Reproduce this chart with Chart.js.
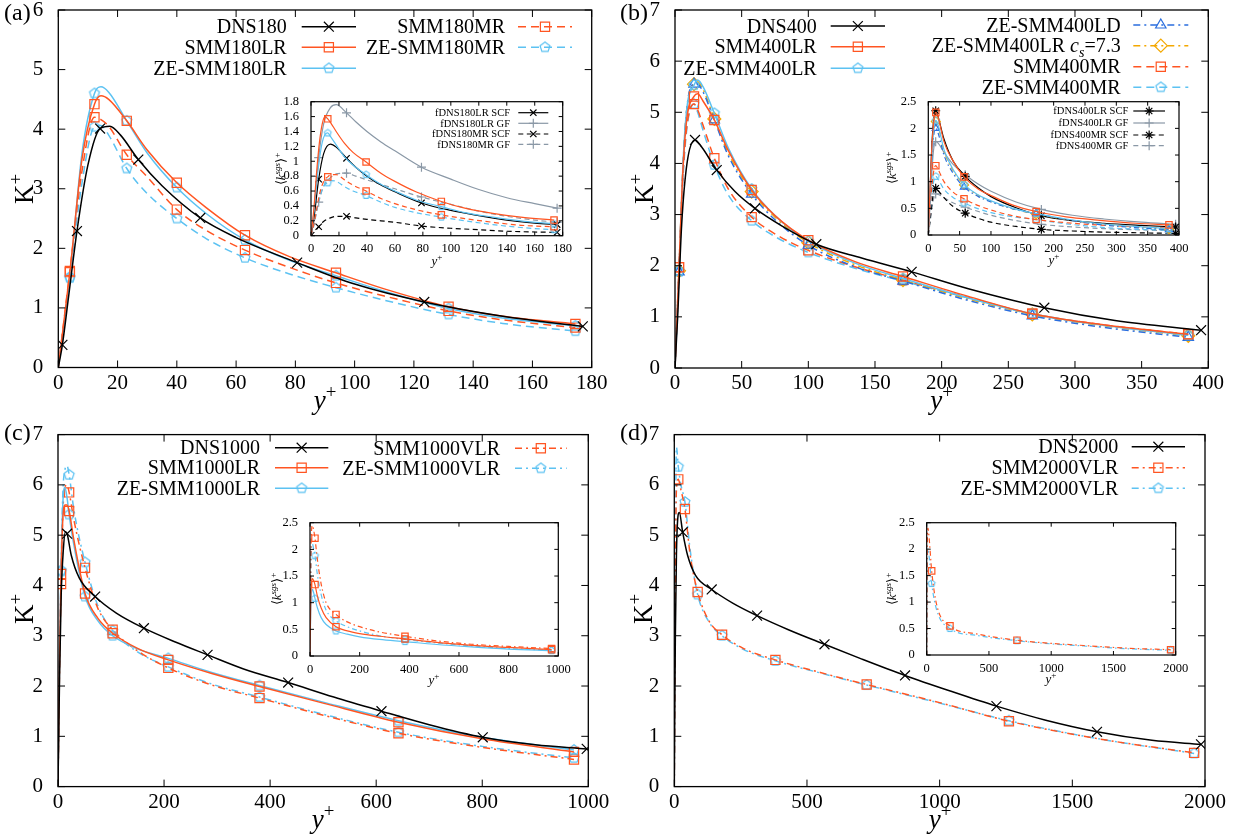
<!DOCTYPE html>
<html>
<head>
<meta charset="utf-8">
<script src="https://cdn.jsdelivr.net/npm/chart.js@4.4.1/dist/chart.umd.min.js"></script>
<style>
  body { margin: 0; background: #fff; }
  #fig { position: relative; width: 1250px; height: 837px; overflow: hidden; background: #fff; }
</style>
</head>
<body>
<div id="fig"></div>
<script>
// ---------- (a) Re_tau = 180 ----------
const a_x_dns = [0, 1.38, 3.5, 6.3, 10, 14.1, 17.4, 21, 27, 35, 47.9, 60, 80.6, 100, 123.5, 150, 177];
const a_k_dns = [0, 0.38, 1.2, 2.29, 3.4, 4.01, 4.05, 3.9, 3.49, 3.05, 2.51, 2.18, 1.76, 1.40, 1.10, 0.86, 0.69];
const a_mk_dns = [1.38, 6.3, 14.1, 27, 47.9, 80.6, 123.5, 177];
const a_x = [0, 3.9, 8, 12.2, 14.4, 17, 23.1, 30, 40, 50, 63, 78, 93.7, 110, 131.7, 150, 174.5];
const a_k_lr = [0, 1.60, 3.5, 4.42, 4.56, 4.50, 4.14, 3.65, 3.10, 2.68, 2.22, 1.86, 1.59, 1.32, 1.02, 0.86, 0.73];
const a_k_zelr = [0, 1.52, 3.6, 4.60, 4.71, 4.62, 4.14, 3.60, 3.02, 2.58, 2.14, 1.80, 1.54, 1.28, 0.99, 0.83, 0.70];
const a_k_mr = [0, 1.62, 3.3, 4.20, 4.16, 4.05, 3.57, 3.20, 2.65, 2.30, 1.97, 1.68, 1.42, 1.20, 0.95, 0.80, 0.67];
const a_k_zemr = [0, 1.50, 3.1, 4.04, 4.06, 3.90, 3.34, 2.92, 2.50, 2.16, 1.84, 1.57, 1.34, 1.13, 0.89, 0.74, 0.61];
const a_mk = [3.9, 12.2, 23.1, 40, 63, 93.7, 131.7, 174.5];

const ai_x_dns = [0, 2, 5.5, 9, 13.9, 18, 25.4, 32, 40, 50, 60, 79, 100, 120, 140, 160, 176];
const ai_k_scf = [0, 0.22, 0.76, 1.1, 1.23, 1.19, 1.04, 0.92, 0.80, 0.68, 0.59, 0.44, 0.34, 0.27, 0.21, 0.17, 0.15];
const ai_k_gf = [0, 0.3, 1.05, 1.5, 1.72, 1.76, 1.65, 1.53, 1.40, 1.26, 1.14, 0.92, 0.76, 0.62, 0.51, 0.43, 0.37];
const ai_k_scfm = [0, 0.04, 0.12, 0.19, 0.24, 0.26, 0.26, 0.24, 0.22, 0.20, 0.18, 0.13, 0.10, 0.08, 0.06, 0.05, 0.045];
const ai_k_gfm = [0, 0.15, 0.45, 0.66, 0.78, 0.83, 0.84, 0.80, 0.75, 0.69, 0.63, 0.52, 0.42, 0.33, 0.26, 0.21, 0.18];
const ai_mk_dns = [5.5, 25.4, 79, 176];
const ai_x = [0, 2, 4, 6, 8, 10, 12, 14, 18, 24, 30, 39.4, 50, 60, 75, 93.2, 110, 130, 150, 173.8];
const ai_k_lr = [0, 0.35, 0.85, 1.25, 1.5, 1.6, 1.57, 1.52, 1.40, 1.24, 1.12, 0.99, 0.84, 0.73, 0.59, 0.46, 0.37, 0.30, 0.25, 0.21];
const ai_k_zelr = [0, 0.30, 0.70, 1.02, 1.25, 1.36, 1.38, 1.33, 1.22, 1.06, 0.95, 0.82, 0.69, 0.60, 0.48, 0.39, 0.31, 0.25, 0.20, 0.16];
const ai_k_mr = [0, 0.15, 0.35, 0.55, 0.68, 0.76, 0.79, 0.82, 0.82, 0.75, 0.68, 0.60, 0.50, 0.43, 0.35, 0.28, 0.23, 0.18, 0.14, 0.12];
const ai_k_zemr = [0, 0.13, 0.32, 0.50, 0.62, 0.69, 0.71, 0.74, 0.73, 0.66, 0.60, 0.54, 0.45, 0.38, 0.31, 0.25, 0.20, 0.15, 0.11, 0.08];
const ai_mk = [12, 39.4, 93.2, 173.8];

// ---------- (b) Re_tau = 400 ----------
const b_x_dns = [0, 2, 5, 9, 15, 20, 31.3, 45, 60, 80, 106, 140, 177.5, 220, 277, 330, 394.6];
const b_k_dns = [0, 1.0, 2.8, 4.0, 4.46, 4.32, 3.87, 3.45, 3.12, 2.78, 2.42, 2.15, 1.88, 1.55, 1.18, 0.93, 0.74];
const b_mk_dns = [15, 31.3, 60, 106, 177.5, 277, 394.6];
const b_x = [0, 3, 6, 9, 14.25, 17, 21, 29.5, 40, 57.5, 75, 100, 135, 171, 220, 268, 320, 385];
const b_k_lr = [0, 1.97, 3.9, 4.9, 5.31, 5.36, 5.22, 4.85, 4.25, 3.48, 2.98, 2.50, 2.08, 1.79, 1.40, 1.06, 0.85, 0.66];
const b_k_zelr = [0, 1.90, 4.0, 5.1, 5.53, 5.63, 5.5, 4.98, 4.30, 3.50, 2.98, 2.48, 2.05, 1.75, 1.37, 1.06, 0.84, 0.64];
const b_k_zeld = [0, 1.88, 3.9, 5.1, 5.55, 5.55, 5.4, 4.85, 4.15, 3.40, 2.90, 2.40, 1.98, 1.70, 1.32, 1.02, 0.80, 0.60];
const b_k_zecs = [0, 1.90, 3.95, 5.1, 5.55, 5.58, 5.45, 4.87, 4.2, 3.45, 2.95, 2.45, 2.02, 1.72, 1.35, 1.05, 0.83, 0.63];
const b_k_mr = [0, 1.97, 3.8, 4.75, 5.16, 5.05, 4.75, 4.10, 3.50, 2.95, 2.62, 2.30, 1.98, 1.72, 1.38, 1.06, 0.85, 0.66];
const b_k_zemr = [0, 1.88, 3.7, 4.70, 5.16, 5.0, 4.65, 3.97, 3.38, 2.88, 2.57, 2.26, 1.95, 1.70, 1.37, 1.05, 0.84, 0.64];
const b_mk = [3, 14.25, 29.5, 57.5, 100, 171, 268, 385];

const bi_x_dns = [0, 3, 6, 9, 11.8, 16, 25, 40, 58.9, 80, 100, 140, 180.4, 230, 280, 340, 394.6];
const bi_k_scf = [0, 0.9, 1.75, 2.2, 2.33, 2.2, 1.8, 1.38, 1.10, 0.88, 0.72, 0.51, 0.36, 0.27, 0.22, 0.18, 0.15];
const bi_k_gf = [0, 0.6, 1.25, 1.65, 1.75, 1.72, 1.55, 1.32, 1.13, 0.95, 0.82, 0.62, 0.48, 0.37, 0.30, 0.24, 0.20];
const bi_k_scfm = [0, 0.3, 0.62, 0.82, 0.875, 0.83, 0.7, 0.53, 0.41, 0.31, 0.24, 0.16, 0.106, 0.075, 0.055, 0.04, 0.03];
const bi_k_gfm = [0, 0.25, 0.52, 0.7, 0.77, 0.76, 0.7, 0.6, 0.52, 0.44, 0.37, 0.27, 0.20, 0.15, 0.12, 0.095, 0.08];
const bi_mk_dns = [11.8, 58.9, 180.4, 394.6];
const bi_x = [0, 3, 6, 9, 12, 16, 25, 40, 57, 80, 100, 135, 172, 220, 270, 330, 384];
const bi_k_lr = [0, 0.9, 1.7, 2.15, 2.30, 2.2, 1.75, 1.38, 1.09, 0.86, 0.74, 0.56, 0.44, 0.34, 0.28, 0.22, 0.19];
const bi_k_zelr = [0, 0.8, 1.55, 2.0, 2.15, 2.05, 1.6, 1.22, 0.95, 0.75, 0.64, 0.50, 0.40, 0.30, 0.22, 0.16, 0.12];
const bi_k_zeld = [0, 0.75, 1.45, 1.9, 2.0, 1.9, 1.5, 1.15, 0.90, 0.72, 0.62, 0.49, 0.40, 0.29, 0.20, 0.14, 0.10];
const bi_k_zecs = [0, 0.8, 1.52, 1.98, 2.13, 2.02, 1.58, 1.2, 0.94, 0.74, 0.63, 0.49, 0.39, 0.29, 0.21, 0.15, 0.11];
const bi_k_mr = [0, 0.5, 0.95, 1.22, 1.30, 1.22, 1.0, 0.8, 0.68, 0.55, 0.47, 0.36, 0.29, 0.23, 0.19, 0.155, 0.13];
const bi_k_zemr = [0, 0.42, 0.8, 1.03, 1.1, 1.04, 0.86, 0.7, 0.60, 0.49, 0.42, 0.34, 0.29, 0.21, 0.15, 0.11, 0.09];
const bi_mk = [12, 57, 172, 384];

// ---------- (c) Re_tau = 1000 ----------
const c_x_dns = [0, 3, 6, 10, 14, 17.2, 25, 40, 70, 110, 162, 220, 282, 350, 434, 520, 610, 700, 801, 900, 997];
const c_k_dns = [0, 2.2, 3.8, 4.7, 5.07, 5.03, 4.6, 4.15, 3.78, 3.45, 3.15, 2.88, 2.62, 2.34, 2.07, 1.78, 1.50, 1.23, 0.98, 0.83, 0.75];
const c_mk_dns = [17.2, 70, 162, 282, 434, 610, 801, 997];
const c_x = [0, 2.5, 5.8, 9, 13, 17, 21, 30, 51, 75, 103, 150, 208, 290, 380, 500, 642, 800, 973];
const c_k_lr = [0, 2.3, 4.23, 5.3, 5.6, 5.6, 5.48, 4.9, 3.84, 3.35, 3.05, 2.75, 2.52, 2.25, 1.99, 1.66, 1.28, 0.95, 0.69];
const c_k_zelr = [0, 2.4, 4.28, 5.6, 5.95, 5.75, 5.41, 4.8, 3.78, 3.3, 3.0, 2.74, 2.55, 2.27, 2.01, 1.68, 1.31, 0.98, 0.73];
const c_k_vlr = [0, 2.1, 4.03, 5.4, 5.95, 6.0, 5.85, 5.3, 4.35, 3.55, 3.12, 2.7, 2.36, 2.02, 1.76, 1.42, 1.06, 0.78, 0.54];
const c_k_zevlr = [0, 2.3, 4.3, 5.8, 6.3, 6.38, 6.2, 5.5, 4.46, 3.6, 3.10, 2.68, 2.38, 2.04, 1.78, 1.44, 1.08, 0.80, 0.57];
const c_mk = [5.8, 21, 51, 103, 208, 380, 642, 973];

const ci_x = [0, 3, 6, 10, 14, 20, 30, 45, 65, 104.7, 150, 200, 280, 382.5, 500, 650, 800, 973];
const ci_k_lr = [0, 1.0, 1.38, 1.45, 1.42, 1.34, 1.12, 0.9, 0.72, 0.55, 0.47, 0.42, 0.37, 0.32, 0.26, 0.2, 0.16, 0.12];
const ci_k_zelr = [0, 0.85, 1.18, 1.25, 1.2, 1.08, 0.9, 0.72, 0.59, 0.47, 0.41, 0.36, 0.31, 0.27, 0.22, 0.17, 0.13, 0.10];
const ci_k_vlr = [0, 1.6, 2.35, 2.45, 2.38, 2.21, 1.8, 1.35, 1.0, 0.78, 0.64, 0.55, 0.45, 0.37, 0.29, 0.22, 0.18, 0.14];
const ci_k_zevlr = [0, 1.35, 2.0, 2.1, 2.03, 1.88, 1.52, 1.15, 0.86, 0.66, 0.55, 0.47, 0.38, 0.31, 0.25, 0.19, 0.14, 0.11];
const ci_mk = [20, 104.7, 382.5, 973];

// ---------- (d) Re_tau = 2000 ----------
const d_x_dns = [0, 4, 8, 12, 19, 31.5, 50, 80, 141, 220, 312, 430, 566, 700, 869.5, 1040, 1214, 1400, 1593, 1800, 1985];
const d_k_dns = [0, 3.0, 4.6, 5.25, 5.45, 5.06, 4.6, 4.2, 3.92, 3.65, 3.4, 3.12, 2.83, 2.55, 2.21, 1.9, 1.6, 1.32, 1.09, 0.92, 0.84];
const d_mk_dns = [31.5, 141, 312, 566, 869.5, 1214, 1593, 1985];
const d_x = [0, 4, 8, 15, 25, 40, 60, 88, 130, 180, 260, 381, 550, 725, 1000, 1261, 1600, 1959];
const d_k_vlr = [0, 4.0, 5.9, 6.11, 5.9, 5.52, 4.6, 3.87, 3.3, 3.02, 2.75, 2.52, 2.27, 2.03, 1.67, 1.30, 0.95, 0.67];
const d_k_zevlr = [0, 4.5, 6.75, 6.36, 6.0, 5.66, 4.7, 3.82, 3.28, 3.0, 2.73, 2.5, 2.26, 2.02, 1.66, 1.31, 0.95, 0.66];
const d_mk = [15, 40, 88, 180, 381, 725, 1261, 1959];

const di_x = [0, 4, 10, 20, 40, 80, 187, 400, 725, 1000, 1261, 1600, 1959];
const di_k_vlr = [0, 1.9, 2.4, 2.2, 1.59, 0.95, 0.55, 0.4, 0.28, 0.22, 0.18, 0.13, 0.10];
const di_k_zevlr = [0, 1.6, 2.0, 1.85, 1.35, 0.85, 0.50, 0.37, 0.27, 0.21, 0.17, 0.12, 0.09];
const di_mk = [40, 187, 725, 1959];

// ---------- styles ----------
const SERIF = '"Liberation Serif", "Times New Roman", serif';
const BLACK = '#000000', RED = '#ff5522', BLUE = '#5cc2f2', GRAY = '#8a98a6', DBLUE = '#2a6ede', GOLD = '#f4a800';
const DASH = [8, 5], DDOT = [7, 4, 2, 4], IDASH = [5, 3.5], IDDOT = [5, 3, 1.5, 3];
const fig = document.getElementById('fig');

function pentagon(color, r, lw) {
  const c = document.createElement('canvas'), s = Math.ceil(2 * r + lw + 2);
  c.width = c.height = s;
  const g = c.getContext('2d');
  g.strokeStyle = color; g.lineWidth = lw; g.beginPath();
  for (let i = 0; i < 5; i++) {
    const t = -Math.PI / 2 + i * 2 * Math.PI / 5;
    g.lineTo(s / 2 + r * Math.cos(t), s / 2 + r * Math.sin(t));
  }
  g.closePath(); g.stroke();
  return c;
}

function series(label, xs, ks, marks, color, dash, shape, r, lw, extra) {
  const mk = new Set(marks);
  return Object.assign({
    label: label,
    data: xs.map((x, i) => ({ x: x, y: ks[i] })),
    borderColor: color, borderWidth: lw, borderDash: dash,
    pointStyle: shape, markR: r,
    pointRadius: c => (c.raw && mk.has(c.raw.x)) ? r : 0,
    pointBorderColor: color, pointBackgroundColor: 'rgba(0,0,0,0)', pointBorderWidth: 1.2,
    cubicInterpolationMode: 'monotone', fill: false
  }, extra || {});
}

// text with italic / superscript / subscript runs
function rich(ctx, parts, x, y, size, align, rot) {
  ctx.save();
  ctx.translate(x, y);
  if (rot) ctx.rotate(rot);
  const segs = parts.map(p => {
    const f = p.f || '', sm = f.includes('^') || f.includes('_');
    const font = (f.includes('i') ? 'italic ' : '') + (sm ? size * 0.7 : size) + 'px ' + SERIF;
    ctx.font = font;
    return { t: p.t, font: font, w: ctx.measureText(p.t).width,
      dy: f.includes('^') ? -size * 0.42 : (f.includes('_') ? size * 0.25 : 0) };
  });
  const W = segs.reduce((s, g) => s + g.w, 0);
  let cx = align === 'center' ? -W / 2 : (align === 'right' ? -W : 0);
  ctx.fillStyle = '#000'; ctx.textAlign = 'left'; ctx.textBaseline = 'alphabetic';
  segs.forEach(g => { ctx.font = g.font; ctx.fillText(g.t, cx, g.dy); cx += g.w; });
  ctx.restore();
}

// frame, inward mirrored ticks, key and free text
const figPlugin = {
  id: 'fig',
  afterDraw(chart, args, o) {
    const ctx = chart.ctx, a = chart.chartArea, sx = chart.scales.x, sy = chart.scales.y;
    ctx.save();
    ctx.strokeStyle = '#000';
    ctx.lineWidth = 1;
    ctx.beginPath();
    sx.ticks.forEach(t => {
      const p = sx.getPixelForValue(t.value);
      ctx.moveTo(p, a.bottom); ctx.lineTo(p, a.bottom - o.tl);
      ctx.moveTo(p, a.top); ctx.lineTo(p, a.top + o.tl);
    });
    sy.ticks.forEach(t => {
      const p = sy.getPixelForValue(t.value);
      ctx.moveTo(a.left, p); ctx.lineTo(a.left + o.tl, p);
      ctx.moveTo(a.right, p); ctx.lineTo(a.right - o.tl, p);
    });
    ctx.stroke();
    ctx.lineWidth = o.fw;
    ctx.strokeRect(a.left, a.top, a.right - a.left, a.bottom - a.top);

    if (o.key) {
      chart.data.datasets.forEach(ds => {
        if (!ds.key) return;
        const c = ds.key[0], r = ds.key[1], col = o.key.cols[c];
        const y = o.key.rows[c][r] - o.oy;
        rich(ctx, ds.keyParts || [{ t: ds.label }], col[0] - o.ox, y + o.key.fs * 0.33, o.key.fs, 'right');
        ctx.save();
        ctx.strokeStyle = ds.borderColor; ctx.lineWidth = ds.borderWidth;
        ctx.setLineDash(ds.borderDash || []);
        ctx.beginPath(); ctx.moveTo(col[1] - o.ox, y); ctx.lineTo(col[2] - o.ox, y); ctx.stroke();
        ctx.setLineDash([]);
        ctx.strokeStyle = ds.pointBorderColor; ctx.lineWidth = ds.pointBorderWidth;
        ctx.fillStyle = 'rgba(0,0,0,0)';
        Chart.helpers.drawPoint(ctx, { pointStyle: ds.pointStyle, radius: ds.markR, borderWidth: ds.pointBorderWidth, rotation: 0 },
          (col[1] + col[2]) / 2 - o.ox, y);
        ctx.restore();
      });
    }
    (o.texts || []).forEach(t => rich(ctx, t.p, t.x - o.ox, t.y - o.oy, t.s, t.a || 'center', t.r || 0));
    ctx.restore();
  }
};

const fmt = v => String(+v.toFixed(2));

function plot(box, area, xr, yr, datasets, deco) {
  const div = document.createElement('div');
  div.style.cssText = 'position:absolute;left:' + box[0] + 'px;top:' + box[1] + 'px;width:' + box[2] + 'px;height:' + box[3] + 'px';
  const cv = document.createElement('canvas');
  div.appendChild(cv); fig.appendChild(div);
  const yw = area[0] - box[0], pt = area[1] - box[1], pr = box[0] + box[2] - area[2], xh = box[1] + box[3] - area[3];
  const tickFont = { family: SERIF, size: deco.fs };
  return new Chart(cv, {
    type: 'line',
    data: { datasets: datasets },
    options: {
      responsive: true, maintainAspectRatio: false, animation: false, events: [],
      layout: { padding: { top: pt, right: pr, left: 0, bottom: 0 } },
      plugins: {
        legend: { display: false }, tooltip: { enabled: false },
        fig: Object.assign({ ox: box[0], oy: box[1] }, deco)
      },
      scales: {
        x: {
          type: 'linear', min: xr[0], max: xr[1],
          ticks: { stepSize: xr[2], font: tickFont, color: '#000', maxRotation: 0, autoSkip: false, padding: deco.xpad, callback: fmt },
          grid: { display: false }, border: { display: false },
          afterFit: s => { s.height = xh; }
        },
        y: {
          type: 'linear', min: yr[0], max: yr[1],
          ticks: { stepSize: yr[2], font: tickFont, color: '#000', autoSkip: false, padding: deco.ypad, callback: fmt },
          grid: { display: false }, border: { display: false },
          afterFit: s => { s.width = yw; }
        }
      }
    },
    plugins: [figPlugin]
  });
}

// markers
const M = { lw: 1.5, x: 7, sq: 6.5, pe: 5.2, tri: 6, di: 6.5 };
const I = { lw: 1.2, x: 4.5, sq: 4.5, pe: 3.6, tri: 4.2, di: 4.5 };
const peBlue = pentagon(BLUE, M.pe, 1.2);
const ipeBlue = pentagon(BLUE, I.pe, 1.1);

const K_MAIN = [{ t: 'K' }, { t: '+', f: '^' }];
const Y_PLUS = [{ t: 'y', f: 'i' }, { t: '+', f: '^' }];
const K_SGS = [{ t: '\u27E8' }, { t: 'k', f: 'i' }, { t: 'sgs', f: 'i^' }, { t: '\u27E9' }, { t: '+', f: '^' }];
const UP = -Math.PI / 2;

function mainDeco(label, lx, ly, ky, xc, xb, key) {
  return {
    fs: 21, xpad: -5, ypad: 7, tl: 7, fw: 1.3, key: key,
    texts: [
      { p: [{ t: label }], x: lx, y: ly, s: 24, a: 'left' },
      { p: K_MAIN, x: ky[0], y: ky[1], s: 27, r: UP },
      { p: Y_PLUS, x: xc, y: xb, s: 27 }
    ]
  };
}
function insetDeco(ky, xt, key) {
  return {
    fs: 12.5, xpad: -2, ypad: 4, tl: 4, fw: 1.2, key: key,
    texts: [
      { p: K_SGS, x: ky[0], y: ky[1], s: 13, r: UP },
      { p: Y_PLUS, x: xt[0], y: xt[1], s: 13 }
    ]
  };
}

// ---------- panel (a) ----------
plot([0, -20, 615, 440], [58.3, 10, 591.7, 367.5], [0, 180, 20], [0, 6, 1], [
  series('DNS180', a_x_dns, a_k_dns, a_mk_dns, BLACK, [], 'crossRot', M.x, M.lw, { key: [0, 0] }),
  series('SMM180LR', a_x, a_k_lr, a_mk, RED, [], 'rect', M.sq, M.lw, { key: [0, 1] }),
  series('ZE-SMM180LR', a_x, a_k_zelr, a_mk, BLUE, [], peBlue, M.pe, M.lw, { key: [0, 2] }),
  series('SMM180MR', a_x, a_k_mr, a_mk, RED, DASH, 'rect', M.sq, M.lw, { key: [1, 0] }),
  series('ZE-SMM180MR', a_x, a_k_zemr, a_mk, BLUE, DASH, peBlue, M.pe, M.lw, { key: [1, 1] })
], mainDeco('(a)', 4, 20, [33, 189], 325, 409, {
  fs: 20, cols: [[286.7, 301.7, 356], [505, 518, 572]], rows: [[26.7, 47.3, 68.3], [26.7, 47.3]]
}));

// ---------- panel (b) ----------
plot([615, -20, 635, 440], [675, 10, 1208.3, 368], [0, 400, 50], [0, 7, 1], [
  series('DNS400', b_x_dns, b_k_dns, b_mk_dns, BLACK, [], 'crossRot', M.x, M.lw, { key: [0, 0] }),
  series('SMM400LR', b_x, b_k_lr, b_mk, RED, [], 'rect', M.sq, M.lw, { key: [0, 1] }),
  series('ZE-SMM400LR', b_x, b_k_zelr, b_mk, BLUE, [], peBlue, M.pe, M.lw, { key: [0, 2] }),
  series('ZE-SMM400LD', b_x, b_k_zeld, b_mk, DBLUE, DDOT, 'triangle', M.tri, M.lw, { key: [1, 0] }),
  series('ZE-SMM400LR cs=7.3', b_x, b_k_zecs, b_mk, GOLD, DDOT, 'rectRot', M.di, M.lw, {
    key: [1, 1], keyParts: [{ t: 'ZE-SMM400LR ' }, { t: 'c', f: 'i' }, { t: 's', f: 'i_' }, { t: '=7.3' }]
  }),
  series('SMM400MR', b_x, b_k_mr, b_mk, RED, DASH, 'rect', M.sq, M.lw, { key: [1, 2] }),
  series('ZE-SMM400MR', b_x, b_k_zemr, b_mk, BLUE, DASH, peBlue, M.pe, M.lw, { key: [1, 3] })
], mainDeco('(b)', 620, 20, [653, 189], 941.6, 409, {
  fs: 20, cols: [[816.7, 830.7, 885], [1120.7, 1133.3, 1188.3]], rows: [[26, 46.7, 68.3], [25, 45.7, 66.7, 87.3]]
}));

// ---------- panel (c) ----------
plot([0, 415, 615, 422], [58, 431, 588.3, 786.6], [0, 1000, 200], [0, 7, 1], [
  series('DNS1000', c_x_dns, c_k_dns, c_mk_dns, BLACK, [], 'crossRot', M.x, M.lw, { key: [0, 0] }),
  series('SMM1000LR', c_x, c_k_lr, c_mk, RED, [], 'rect', M.sq, M.lw, { key: [0, 1] }),
  series('ZE-SMM1000LR', c_x, c_k_zelr, c_mk, BLUE, [], peBlue, M.pe, M.lw, { key: [0, 2] }),
  series('SMM1000VLR', c_x, c_k_vlr, c_mk, RED, DDOT, 'rect', M.sq, M.lw, { key: [1, 0] }),
  series('ZE-SMM1000VLR', c_x, c_k_zevlr, c_mk, BLUE, DDOT, peBlue, M.pe, M.lw, { key: [1, 1] })
], mainDeco('(c)', 4, 440, [33, 609], 323, 828, {
  fs: 20, cols: [[260, 275, 328.3], [500, 515, 566.7]], rows: [[447.7, 467.7, 488.3], [448.3, 468.3]]
}));

// ---------- panel (d) ----------
plot([615, 415, 635, 422], [674.3, 431, 1205, 786.6], [0, 2000, 500], [0, 7, 1], [
  series('DNS2000', d_x_dns, d_k_dns, d_mk_dns, BLACK, [], 'crossRot', M.x, M.lw, { key: [0, 0] }),
  series('SMM2000VLR', d_x, d_k_vlr, d_mk, RED, DDOT, 'rect', M.sq, M.lw, { key: [0, 1] }),
  series('ZE-SMM2000VLR', d_x, d_k_zevlr, d_mk, BLUE, DDOT, peBlue, M.pe, M.lw, { key: [0, 2] })
], mainDeco('(d)', 620, 440, [652, 609], 940, 828, {
  fs: 20, cols: [[1118.3, 1131.7, 1185]], rows: [[446.7, 467.7, 488.3]]
}));

// ---------- insets: sub-grid kinetic energy ----------
plot([265, 90, 310, 185], [311, 101.7, 562.7, 235.7], [0, 180, 20], [0, 1.8, 0.2], [
  series('SMM180LR', ai_x, ai_k_lr, ai_mk, RED, [], 'rect', I.sq, I.lw),
  series('ZE-SMM180LR', ai_x, ai_k_zelr, ai_mk, BLUE, [], ipeBlue, I.pe, I.lw),
  series('SMM180MR', ai_x, ai_k_mr, ai_mk, RED, IDASH, 'rect', I.sq, I.lw),
  series('ZE-SMM180MR', ai_x, ai_k_zemr, ai_mk, BLUE, IDASH, ipeBlue, I.pe, I.lw),
  series('fDNS180LR SCF', ai_x_dns, ai_k_scf, ai_mk_dns, BLACK, [], 'crossRot', I.x, I.lw, { key: [0, 0] }),
  series('fDNS180LR GF', ai_x_dns, ai_k_gf, ai_mk_dns, GRAY, [], 'cross', I.x, I.lw, { key: [0, 1] }),
  series('fDNS180MR SCF', ai_x_dns, ai_k_scfm, ai_mk_dns, BLACK, IDASH, 'crossRot', I.x, I.lw, { key: [0, 2] }),
  series('fDNS180MR GF', ai_x_dns, ai_k_gfm, ai_mk_dns, GRAY, IDASH, 'cross', I.x, I.lw, { key: [0, 3] })
], insetDeco([285, 169], [437, 265], {
  fs: 10.5, cols: [[510, 518.3, 548.3]], rows: [[112.7, 123.3, 134, 144.3]]
}));

plot([880, 90, 320, 185], [928.3, 101.7, 1179, 235], [0, 400, 50], [0, 2.5, 0.5], [
  series('SMM400LR', bi_x, bi_k_lr, bi_mk, RED, [], 'rect', I.sq, I.lw),
  series('ZE-SMM400LR', bi_x, bi_k_zelr, bi_mk, BLUE, [], ipeBlue, I.pe, I.lw),
  series('ZE-SMM400LD', bi_x, bi_k_zeld, bi_mk, DBLUE, IDDOT, 'triangle', I.tri, I.lw),
  series('ZE-SMM400LR cs=7.3', bi_x, bi_k_zecs, bi_mk, GOLD, IDDOT, 'rectRot', I.di, I.lw),
  series('SMM400MR', bi_x, bi_k_mr, bi_mk, RED, IDASH, 'rect', I.sq, I.lw),
  series('ZE-SMM400MR', bi_x, bi_k_zemr, bi_mk, BLUE, IDASH, ipeBlue, I.pe, I.lw),
  series('fDNS400LR SCF', bi_x_dns, bi_k_scf, bi_mk_dns, BLACK, [], 'star', I.x, I.lw, { key: [0, 0] }),
  series('fDNS400LR GF', bi_x_dns, bi_k_gf, bi_mk_dns, GRAY, [], 'cross', I.x, I.lw, { key: [0, 1] }),
  series('fDNS400MR SCF', bi_x_dns, bi_k_scfm, bi_mk_dns, BLACK, IDASH, 'star', I.x, I.lw, { key: [0, 2] }),
  series('fDNS400MR GF', bi_x_dns, bi_k_gfm, bi_mk_dns, GRAY, IDASH, 'cross', I.x, I.lw, { key: [0, 3] })
], insetDeco([896, 168], [1054, 264], {
  fs: 10.5, cols: [[1128.3, 1133.3, 1165]], rows: [[111, 123, 135, 145.7]]
}));

plot([265, 510, 310, 185], [310, 522.7, 558.3, 656], [0, 1000, 200], [0, 2.5, 0.5], [
  series('SMM1000LR', ci_x, ci_k_lr, ci_mk, RED, [], 'rect', I.sq, I.lw),
  series('ZE-SMM1000LR', ci_x, ci_k_zelr, ci_mk, BLUE, [], ipeBlue, I.pe, I.lw),
  series('SMM1000VLR', ci_x, ci_k_vlr, ci_mk, RED, IDDOT, 'rect', I.sq, I.lw),
  series('ZE-SMM1000VLR', ci_x, ci_k_zevlr, ci_mk, BLUE, IDDOT, ipeBlue, I.pe, I.lw)
], insetDeco([281, 589], [434, 684], null));

plot([880, 510, 320, 185], [926.7, 522.7, 1175.7, 655], [0, 2000, 500], [0, 2.5, 0.5], [
  series('SMM2000VLR', di_x, di_k_vlr, di_mk, RED, IDDOT, 'rect', I.sq, I.lw),
  series('ZE-SMM2000VLR', di_x, di_k_zevlr, di_mk, BLUE, IDDOT, ipeBlue, I.pe, I.lw)
], insetDeco([896, 589], [1051, 683], null));
</script>
</body>
</html>
